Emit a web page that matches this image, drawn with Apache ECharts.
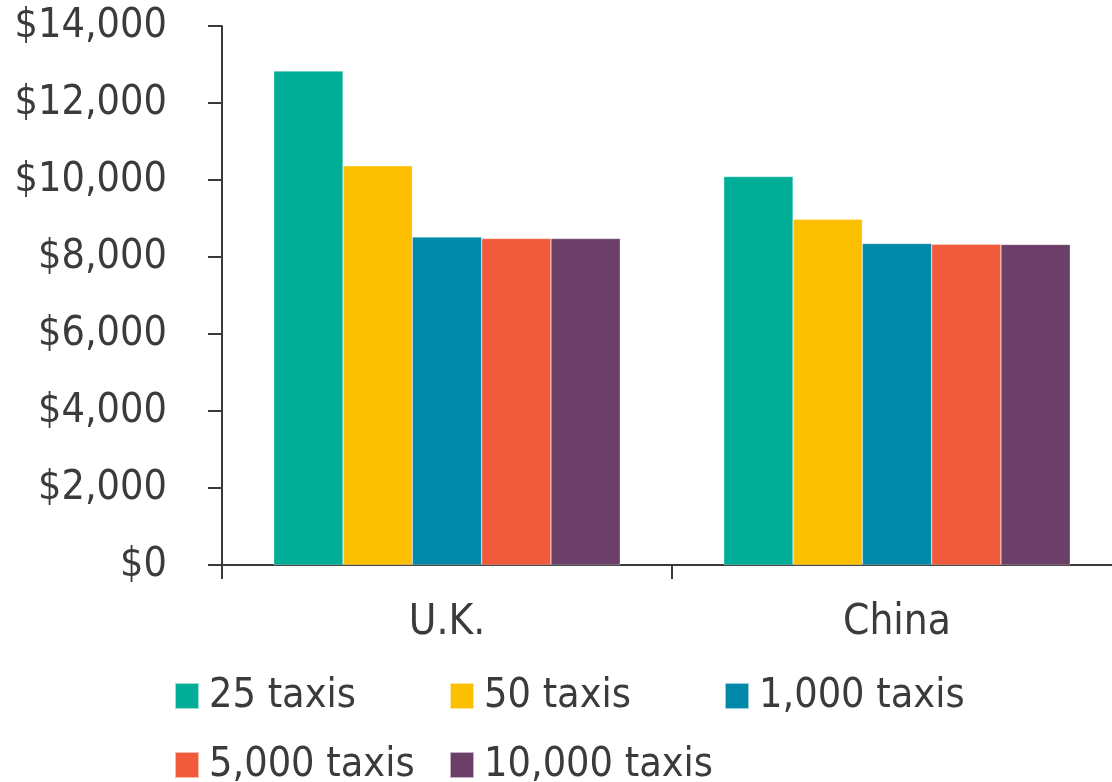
<!DOCTYPE html>
<html>
<head>
<meta charset="utf-8">
<script src="https://cdn.jsdelivr.net/npm/echarts@6/dist/echarts.min.js"></script>
<style>
  html, body { margin: 0; padding: 0; background: #fff; }
  #chart { width: 1112px; height: 782px; }
</style>
</head>
<body>
<div id="chart"></div>
<script>
// categories and series
var countries = ['U.K.', 'China'];
var fleetNames = ['25 taxis', '50 taxis', '1,000 taxis', '5,000 taxis', '10,000 taxis'];
var taxis25 = [12830, 10090];
var taxis50 = [10370, 8980];
var taxis1000 = [8520, 8350];
var taxis5000 = [8480, 8330];
var taxis10000 = [8480, 8325];
var yTicks = [0, 2000, 4000, 6000, 8000, 10000, 12000, 14000];

var colors = ['#00AE98', '#FCC000', '#0088A8', '#F15A3A', '#6B3F67'];
var fontName = '"DejaVu Sans Condensed", "DejaVu Sans", sans-serif';
var textColor = '#3b3b3b';
var axisColor = '#3a3a3a';

var seriesValues = [taxis25, taxis50, taxis1000, taxis5000, taxis10000];
var series = [];
for (var i = 0; i < fleetNames.length; i++) {
  series.push({
    name: fleetNames[i],
    type: 'bar',
    data: seriesValues[i],
    barGap: '0%',
    barCategoryGap: '23%',
    itemStyle: { color: colors[i], borderColor: 'rgba(255,255,255,0.6)', borderWidth: 0.5 }
  });
}

var chart = echarts.init(document.getElementById('chart'));
chart.setOption({
  animation: false,
  color: colors,
  textStyle: { fontFamily: fontName },
  // the x axis runs past the right edge of the picture
  grid: { left: 222, top: 26, width: 900, height: 539, outerBoundsMode: 'none', containLabel: false },
  legend: {
    data: fleetNames,
    left: 169,
    top: 664,
    width: 840,
    icon: 'rect',
    itemWidth: 24,
    itemHeight: 26,
    itemGap: 15,
    textStyle: {
      fontSize: 41,
      color: textColor,
      fontFamily: fontName,
      width: 225,
      lineHeight: 54,
      padding: [0, 0, 0, 5]
    }
  },
  xAxis: {
    type: 'category',
    data: countries,
    axisLine: { lineStyle: { color: axisColor, width: 2 } },
    axisTick: { show: true, length: 14, lineStyle: { color: axisColor, width: 2 } },
    axisLabel: { fontSize: 42, color: textColor, margin: 37, fontFamily: fontName },
    splitLine: { show: false }
  },
  yAxis: {
    type: 'value',
    min: yTicks[0],
    max: yTicks[yTicks.length - 1],
    interval: yTicks[1] - yTicks[0],
    axisLine: { show: true, lineStyle: { color: axisColor, width: 2 } },
    axisTick: { show: true, length: 14, lineStyle: { color: axisColor, width: 2 } },
    axisLabel: {
      fontSize: 41,
      color: textColor,
      margin: 55,
      padding: [5, 0, 0, 0],
      fontFamily: fontName,
      formatter: function (v) { return '$' + v.toLocaleString('en-US'); }
    },
    splitLine: { show: false }
  },
  series: series
});
</script>
</body>
</html>
